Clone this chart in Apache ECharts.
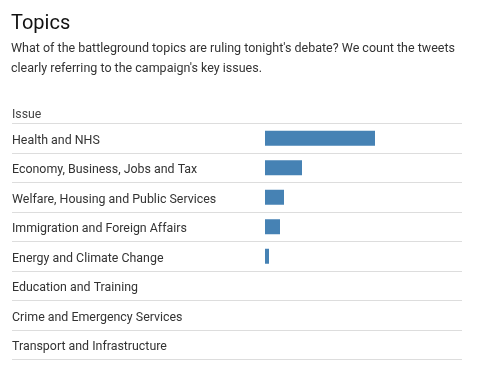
<!DOCTYPE html>
<html>
<head>
<meta charset="utf-8">
<script src="https://cdn.jsdelivr.net/npm/echarts@6/dist/echarts.min.js"></script>
<style>
  html, body { margin: 0; padding: 0; background: #fff; }
  #main { width: 496px; height: 383px; }
</style>
</head>
<body>
<div id="main"></div>
<script>
// topics and tweet counts (bar lengths)
var issues = [
    'Health and NHS',
    'Economy, Business, Jobs and Tax',
    'Welfare, Housing and Public Services',
    'Immigration and Foreign Affairs',
    'Energy and Climate Change',
    'Education and Training',
    'Crime and Emergency Services',
    'Transport and Infrastructure'
];
var tweets = [110, 37, 19, 15, 4, 0, 0, 0];
var scaleMax = 197;

var myChart = echarts.init(document.getElementById('main'));
var fontFam = 'Roboto, "Noto Sans", sans-serif';

var option = {
    animation: false,
    title: {
        text: 'Topics',
        subtext: "What of the battleground topics are ruling tonight's debate? We count the tweets\nclearly referring to the campaign's key issues.",
        left: 6,
        top: 9,
        itemGap: 5,
        textStyle: {
            fontFamily: fontFam,
            fontSize: 20,
            fontWeight: 'normal',
            color: '#111'
        },
        subtextStyle: {
            fontFamily: fontFam,
            fontSize: 12.5,
            color: '#333',
            lineHeight: 20
        }
    },
    grid: [
        { left: 12, right: 34, top: 123.5, bottom: 23.5 },   // label rows + divider lines
        { left: 265, right: 34, top: 123.5, bottom: 23.5 }   // bars
    ],
    xAxis: [
        { gridIndex: 0, type: 'value', show: false, min: 0, max: 1 },
        { gridIndex: 1, type: 'value', show: false, min: 0, max: scaleMax }
    ],
    yAxis: [
        {
            gridIndex: 0,
            type: 'category',
            data: issues,
            inverse: true,
            name: 'Issue',
            nameLocation: 'start',
            nameGap: 3,
            nameTextStyle: {
                fontFamily: fontFam,
                fontSize: 12.3,
                color: '#444',
                align: 'left'
            },
            axisLine: { show: false },
            axisTick: { show: false },
            axisLabel: {
                inside: true,
                margin: 0,
                formatter: function (v) { return '{t|' + v + '}'; },
                rich: {
                    t: {
                        padding: [5, 0, 0, 0],
                        fontFamily: fontFam,
                        fontSize: 12.4,
                        color: '#333'
                    }
                }
            },
            splitLine: {
                show: true,
                lineStyle: { color: '#dddddd', width: 1 }
            }
        },
        {
            gridIndex: 1,
            type: 'category',
            data: issues,
            inverse: true,
            show: false
        }
    ],
    series: [
        {
            type: 'bar',
            xAxisIndex: 1,
            yAxisIndex: 1,
            data: tweets,
            barWidth: 15,
            itemStyle: { color: '#4682b4' },
            silent: true
        }
    ]
};
myChart.setOption(option);
</script>
</body>
</html>
